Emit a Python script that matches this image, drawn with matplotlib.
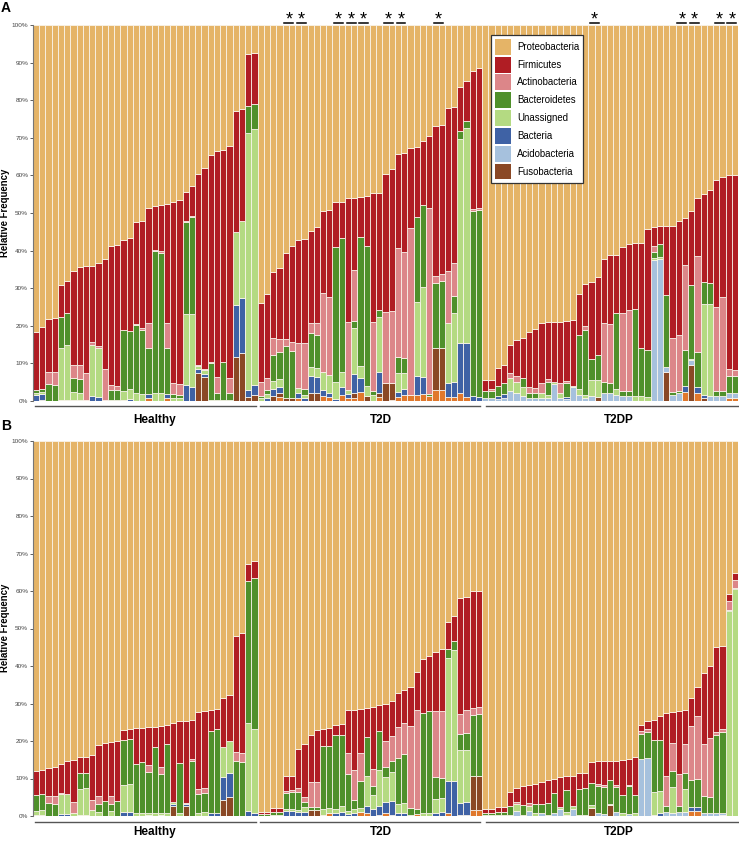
import numpy as np
import matplotlib.pyplot as plt
from matplotlib.patches import Patch
from matplotlib.transforms import blended_transform_factory

plt.rcParams['font.family'] = ['Liberation Sans', 'DejaVu Sans']

phyla = ['Proteobacteria', 'Firmicutes', 'Actinobacteria', 'Bacteroidetes',
         'Unassigned', 'Bacteria', 'Acidobacteria', 'Fusobacteria']
colors = {'Proteobacteria': '#E5B467', 'Firmicutes': '#B01D24',
          'Actinobacteria': '#DC8689', 'Bacteroidetes': '#4F902B',
          'Unassigned': '#B4DA82', 'Bacteria': '#3F62A5',
          'Acidobacteria': '#A6C1DD', 'Fusobacteria': '#8A4825',
          'Other': '#E0782C'}

groups = ['Healthy', 'T2D', 'T2DP']
group_sizes = [36, 36, 41]

# ---- panel A (Healthy 36 | T2D 36 | T2DP 41), percent ----
a_fuso = [0, 0.3, 0, 0, 0, 0, 0, 0, 0, 0, 0, 0, 0, 0, 0, 0, 0, 0, 0, 0,
          0, 0, 0, 0, 0, 0, 7.5, 6.4, 0, 0, 0, 0, 11.6, 12.8, 1.0, 1.5,
          0, 0, 1.4, 1.0, 0.7, 0.7, 0, 0, 2.0, 2.2, 0, 0, 0, 0, 0, 1.3, 0, 1.3, 0, 1.0,
          4.7, 4.6, 0, 0, 0, 0, 0, 0, 11.1, 11.1, 0, 0, 0, 0, 0, 0,
          0, 0, 0, 0, 0, 0, 0, 0, 0, 0, 0, 0, 0, 0, 0, 0, 0, 0, 1.1, 0,
          0, 0, 0, 0, 0, 0, 0, 0, 0, 7.8, 0, 0, 0, 9.6, 0, 0.7, 0, 0, 0, 0, 0]
a_acido = [0] * 72 + [
          0.7, 0.7, 0.4, 0.7, 2.7, 2.2, 1.2, 0.8, 0.9, 0.9, 0.9, 4.5, 0.9, 0.6, 3.8, 1.6, 0.7, 1.2, 0, 2.0,
          2.0, 1.6, 1.2, 1.2, 0, 0, 0, 37.5, 37.8, 1.3, 1.6, 2.0, 0, 1.3, 0, 0, 1.2, 1.3, 1.3, 1.1, 1.1]
a_bact = [1.5, 1.5, 0, 0, 0.2, 0.2, 0.3, 0.3, 0, 1.2, 1.1, 0.2, 0.3, 0.3, 0.3, 0.5, 0, 0, 1.0, 0,
          0, 1.0, 0, 0, 4.2, 3.6, 1.1, 0.9, 0, 0, 0, 0, 14.0, 14.7, 2.0, 2.8,
          0, 0.8, 1.8, 1.8, 0, 0, 1.5, 0.8, 4.7, 4.3, 1.5, 1.0, 0.4, 2.2, 1.1, 5.2, 3.5, 0, 0, 5.6,
          0, 0, 1.5, 1.5, 0, 5.1, 4.7, 0, 0, 0, 3.6, 4.0, 13.3, 14.2, 1.3, 1.0,
          0, 0, 0.8, 1.1, 0, 0, 0, 0, 0, 0, 0, 0, 0, 0.5, 0, 0, 0, 0, 0, 0,
          0, 0, 0, 0, 0, 0, 0, 0, 0, 0, 0, 0, 1.5, 0, 1.4, 0.9, 0, 0, 0, 0, 0]
a_other = [0, 0, 0, 0, 0, 0, 0, 0, 0, 0, 0, 0, 0, 0, 0, 0, 0, 0, 0.9, 0,
           0, 0.8, 0, 0, 0, 0, 0, 0, 0, 0, 0, 0, 0, 0, 0, 0,
           0, 0, 0, 1.0, 0, 0, 0.7, 0, 0, 0, 1.4, 1.0, 0, 1.6, 0.7, 0.7, 2.5, 0, 0, 1.0,
           0, 0.3, 1.0, 1.6, 1.6, 1.6, 1.8, 1.2, 2.9, 2.9, 1.1, 1.1, 2.0, 1.1, 0, 0,
           0, 0, 0, 0, 0, 0, 0, 0, 0, 0, 0, 0, 0, 0, 0, 0, 0, 0, 0, 0,
           0, 0, 0, 0, 0, 0, 0, 0, 0, 0, 0, 0, 2.5, 0, 2.2, 0, 0, 0, 0, 0.9, 0.9]
a_unas = [0.5, 0.5, 0, 0, 13.8, 14.6, 2.0, 1.8, 0.3, 13.8, 13.0, 0, 0, 0, 2.3, 2.6, 2.0, 1.8, 0, 2.0,
          2.0, 0, 0.8, 0.7, 19.0, 19.6, 0.6, 0.9, 0.2, 0.2, 0.2, 0.2, 19.4, 20.3, 68.3, 68.1,
          0.7, 1.0, 2.2, 2.1, 0, 0, 1.3, 0.8, 2.4, 2.4, 4.9, 4.9, 4.7, 4.0, 1.1, 12.1, 3.3, 2.8, 1.5, 14.7,
          0, 0, 5.0, 4.4, 0, 19.5, 23.9, 0, 0, 0, 16.1, 18.2, 54.4, 57.2, 0, 0,
          0, 0, 0, 0, 3.5, 2.9, 2.6, 0, 0, 1.3, 0.7, 0.5, 1.1, 0, 0.3, 1.5, 0.9, 4.3, 4.5, 0,
          0, 1.5, 0, 0, 1.3, 1.3, 1.1, 0.6, 0.6, 0, 0, 0, 0, 0.4, 0, 24.2, 24.6, 0, 0, 0, 0]
a_bactd = [0.8, 0.8, 4.5, 4.2, 8.3, 8.6, 3.9, 3.7, 0, 0, 0, 0, 2.7, 2.5, 16.4, 15.5, 18.2, 17.2, 12.3, 37.8,
           37.4, 12.2, 1.0, 0.8, 24.3, 25.7, 0, 0, 10.0, 1.8, 10.3, 1.8, 0, 0, 7.2, 6.6,
           0.6, 1.2, 6.9, 7.0, 13.8, 12.7, 0, 1.5, 9.0, 8.7, 0, 0, 35.9, 35.5, 0, 2.1, 34.4, 37.1, 1.2, 1.9,
           0, 0, 4.3, 4.0, 0, 22.8, 21.7, 0.6, 17.5, 18.0, 0, 4.6, 2.1, 2.1, 49.2, 49.8,
           2.0, 2.0, 2.8, 3.1, 0, 0, 2.4, 1.4, 1.3, 0, 3.5, 0, 0, 3.6, 0, 14.5, 17.3, 5.8, 6.6, 3.1,
           2.7, 20.2, 1.5, 1.5, 23.3, 12.9, 12.5, 1.6, 3.3, 19.1, 0.9, 0.7, 9.6, 19.6, 9.5, 5.9, 5.7, 1.4, 1.4, 4.6, 4.6]
a_actino = [0, 0, 3.3, 3.6, 0, 0, 3.3, 3.7, 7.2, 0.8, 0.4, 8.3, 1.2, 1.3, 0, 0, 0.4, 0.5, 6.6, 0.4,
            0.4, 6.7, 3.0, 3.1, 0.3, 0.4, 0.4, 0.4, 0.2, 4.5, 0, 4.2, 0, 0, 0, 0,
            3.7, 3.0, 4.5, 3.6, 2.0, 2.2, 12.0, 12.4, 2.7, 3.1, 21.0, 20.8, 0, 0, 18.0, 13.4, 0, 0, 18.4, 0,
            18.9, 19.0, 29.0, 28.0, 44.4, 0, 0, 49.4, 1.7, 1.7, 13.8, 8.7, 0, 0, 0.6, 0.4,
            0, 0.4, 0, 0, 1.3, 1.6, 0, 1.4, 1.2, 2.5, 0.8, 0, 2.7, 0.7, 0, 0, 1.0, 0, 0, 15.7,
            15.8, 0, 20.8, 21.5, 0, 0, 0, 1.5, 0, 0, 14.3, 14.9, 22.7, 0, 25.5, 0, 0, 22.4, 25.0, 1.8, 1.6]
a_firm = [15.5, 16.5, 13.9, 14.4, 8.5, 8.6, 25.2, 26.1, 28.3, 20.2, 22.3, 29.3, 37.1, 37.5, 23.8, 24.7, 27.0, 28.3, 30.4, 11.6,
          12.4, 31.6, 48.0, 48.9, 7.7, 7.9, 50.9, 53.4, 55.1, 59.9, 56.3, 61.6, 32.0, 29.9, 13.8, 13.6,
          21.0, 22.4, 17.4, 18.8, 22.8, 25.7, 27.3, 27.5, 24.3, 25.7, 21.8, 23.1, 11.8, 9.5, 33.1, 19.2, 10.6, 13.3, 34.1, 31.0,
          36.7, 37.7, 25.0, 26.4, 21.3, 18.6, 17.0, 19.3, 40.0, 39.7, 43.4, 41.7, 11.6, 10.6, 36.7, 37.3,
          2.9, 2.5, 4.9, 4.7, 7.4, 9.5, 10.6, 14.8, 15.7, 16.1, 15.2, 16.1, 16.4, 15.9, 17.4, 10.8, 11.2, 20.3, 20.9, 17.0,
          18.3, 15.5, 17.4, 17.5, 17.3, 27.9, 32.1, 5.1, 4.8, 18.3, 29.8, 30.3, 12.3, 19.5, 15.5, 23.4, 24.6, 33.6, 32.0, 51.7, 52.0]

# ---- panel B ----
b_fuso = [0] * 22 + [2.7, 0, 2.8, 0, 0, 0, 0, 0, 4.4, 5.1, 0, 0, 0, 0] + \
         [0, 0, 0, 0, 0, 0, 0, 0, 1.6, 1.6] + [0] * 24 + [9.1, 9.1] + \
         [0] * 17 + [2.2, 0, 0, 2.9] + [0] * 20
b_acido = [0] * 72 + [
          0.3, 0.3, 0, 0, 0.4, 1.3, 0, 1.3, 0, 0.7, 0.4, 0.7, 2.0, 0, 2.0, 0, 0, 0, 0.9, 0.6,
          0, 1.2, 0, 0.5, 0, 15.1, 15.5, 0, 0, 1.1, 0.9, 1.1, 1.1, 0, 0, 0.9, 0.9, 0.9, 0.5, 0, 0]
b_bact = [0.3, 0.3, 0, 0, 0.5, 0.5, 0, 0.3, 0.3, 0, 0, 0, 0, 0, 1.2, 1.2, 0, 0, 0.4, 0,
          0.4, 0, 0.6, 0, 0.5, 0, 0, 0, 0.9, 0.7, 6.1, 6.4, 0, 0, 1.3, 0.9,
          0, 0, 0, 0, 1.3, 1.3, 1.0, 1.0, 0, 0, 0, 0, 0.8, 1.2, 0.5, 0.7, 0, 2.0, 2.0, 2.3,
          3.0, 3.6, 0.7, 0.9, 0, 0, 0, 0, 0.8, 1.1, 8.4, 9.3, 3.0, 3.3, 0, 0,
          0, 0, 0.4, 0.4, 0, 0, 0, 0, 0, 0, 0, 0, 0, 0.4, 0, 0, 0, 0, 0, 0,
          0, 0, 0, 0, 0, 0, 0, 0.4, 0.7, 0, 0, 0, 0, 1.1, 1.1, 0, 0, 0, 0, 0, 0]
b_other = [0] * 36 + \
          [0, 0, 0, 0, 0, 0, 0, 0, 0, 0, 0.4, 0.7, 0, 0, 0, 0, 1.0, 0.7, 0, 0.4,
           0.7, 0.4, 0, 0, 0.4, 0.6, 0, 0, 0, 0, 0.9, 0, 0.4, 0.4, 1.7, 1.7] + \
          [0] * 33 + [1.3, 1.3, 0, 0, 0, 0.4, 0, 0]
b_unas = [1.0, 1.3, 0, 0, 5.5, 5.3, 0.7, 6.8, 7.1, 1.6, 1.1, 0, 1.3, 0, 7.2, 7.4, 0.7, 0.7, 0.5, 0.9,
          0.5, 0.9, 0.5, 0.9, 0, 0, 0.7, 1.0, 0, 0, 7.9, 8.5, 0, 0, 23.4, 22.2,
          0, 0, 0.4, 0.4, 0.6, 0.6, 0.7, 1.5, 0, 0, 1.4, 1.5, 1.2, 1.5, 0.8, 1.1, 1.2, 8.1, 3.6, 9.7,
          6.8, 7.7, 2.4, 2.5, 0, 0, 0.7, 0.7, 3.8, 3.8, 32.8, 35.1, 14.2, 13.9, 0, 0,
          0, 0, 0, 0, 0, 1.8, 0.4, 1.3, 0.9, 0, 0, 0, 0.5, 0.7, 0.7, 0.4, 0.4, 0.7, 0, 0,
          0.4, 0, 0.7, 0, 0.7, 0, 0, 6.0, 6.0, 0, 6.8, 0, 6.2, 0, 0, 0, 0, 0, 0, 54.7, 60.6]
b_bactd = [4.3, 4.2, 3.5, 3.3, 0, 0, 0, 4.3, 4.1, 0, 2.2, 4.0, 1.8, 4.0, 12.0, 12.0, 13.2, 13.7, 10.8, 17.6,
           10.3, 18.2, 0, 13.3, 0, 14.6, 5.3, 5.1, 21.9, 22.6, 0, 0, 14.7, 14.5, 38.0, 40.3,
           0.5, 0.5, 0.7, 0.7, 4.2, 4.4, 4.7, 1.2, 0.8, 0.8, 17.0, 16.6, 19.7, 19.0, 10.0, 2.6, 7.1, 10.3, 2.4, 10.2,
           2.7, 3.1, 12.3, 13.1, 1.8, 1.4, 26.8, 27.2, 5.7, 5.3, 2.4, 2.4, 4.2, 4.6, 16.2, 16.4,
           0.6, 0.6, 0.7, 0.7, 2.4, 0, 2.5, 0, 2.2, 2.4, 3.1, 5.5, 0, 5.8, 0, 6.9, 7.0, 6.0, 7.0, 7.2,
           6.2, 6.6, 4.8, 7.4, 4.8, 6.8, 6.9, 13.8, 13.7, 1.7, 4.4, 1.6, 4.2, 7.2, 7.5, 4.5, 4.3, 20.8, 21.6, 0.3, 0.3]
b_actino = [0, 0, 1.8, 2.0, 0.2, 0.2, 3.0, 0, 0, 2.8, 2.0, 0, 2.2, 0, 0, 0, 0, 0, 2.0, 0,
            1.9, 0, 0, 0, 0.3, 0.7, 1.1, 1.4, 0, 0, 0, 0, 2.4, 2.4, 0, 0,
            0, 0, 0, 0, 0.7, 0.6, 1.1, 1.3, 6.6, 6.8, 0, 0, 0, 0, 5.4, 8.0, 7.6, 0, 4.6, 0,
            6.8, 6.5, 8.4, 8.3, 21.8, 26.2, 0, 0, 17.6, 17.7, 0, 0, 5.3, 6.2, 1.8, 1.8,
            0, 0, 0, 0, 0, 0.6, 0, 0.8, 0, 0, 0, 0, 0, 0, 0, 0, 0, 0, 0.7, 0.5,
            0, 0.6, 0, 0.4, 0, 0.7, 0.9, 0, 0, 7.8, 7.4, 8.4, 7.6, 14.5, 16.7, 13.7, 15.5, 0.7, 0.7, 2.4, 2.1]
b_firm = [6.4, 6.6, 7.5, 7.8, 7.7, 8.6, 11.2, 4.4, 4.3, 11.9, 13.7, 15.5, 14.5, 16.0, 2.6, 2.5, 9.7, 9.2, 10.0, 5.3,
          11.0, 5.1, 20.9, 11.1, 21.7, 10.4, 20.6, 20.4, 5.5, 5.2, 13.1, 12.4, 30.9, 31.9, 4.6, 4.6,
          0.5, 0.5, 1.1, 1.1, 4.0, 3.9, 10.4, 14.3, 12.6, 13.7, 4.3, 4.7, 2.7, 2.9, 11.5, 16.0, 11.7, 7.6, 16.4, 6.9,
          10.0, 9.3, 9.0, 8.7, 10.3, 10.1, 14.4, 14.7, 15.8, 16.6, 7.2, 6.6, 31.0, 30.1, 31.3, 31.1,
          0.9, 0.9, 1.3, 1.3, 3.7, 3.8, 5.1, 4.9, 5.5, 6.0, 6.0, 3.8, 7.9, 3.7, 8.1, 4.1, 4.1, 5.5, 6.0, 6.5,
          5.3, 6.4, 9.4, 6.8, 10.3, 1.8, 2.0, 5.5, 6.2, 16.9, 8.2, 16.8, 9.1, 7.4, 7.8, 19.0, 19.4, 22.6, 22.2, 1.9, 1.8]

# significant pairs (panel A), given as the boundary between the two bars
star_pairs = [40.5, 42.5, 48.5, 50.5, 52.5, 56.5, 58.5, 64.5,
              89.5, 103.5, 105.5, 109.5, 111.5]


def draw_panel(ax, layers, line_y, label_y):
    n = len(layers[0][1])
    x = np.arange(n)
    bottom = np.zeros(n)
    for name, vals in layers:
        vals = np.array(vals, dtype=float)
        ax.bar(x, vals, bottom=bottom, width=1.0, color=colors[name],
               edgecolor='#fbf6ee', linewidth=0.55)
        bottom += vals
    ax.bar(x, 100 - bottom, bottom=bottom, width=1.0,
           color=colors['Proteobacteria'], edgecolor='#fbf6ee', linewidth=0.55)

    ax.set_xlim(-0.5, n - 0.5)
    ax.set_ylim(0, 100)
    ax.set_yticks(range(0, 101, 10))
    ax.set_yticklabels([f'{v}%' for v in range(0, 101, 10)])
    ax.tick_params(axis='y', labelsize=4.6, colors='#444444', length=2, width=0.6, pad=1.5)
    ax.set_xticks([])
    for s in ['top', 'right', 'bottom']:
        ax.spines[s].set_visible(False)
    ax.spines['left'].set_color('#777777')
    ax.spines['left'].set_linewidth(0.8)

    # group brackets and names
    tr = blended_transform_factory(ax.transData, ax.transAxes)
    spans = [(-0.2, 35.2), (35.9, 71.1), (72.1, 112.5)]
    label_x = [19.0, 55.3, 93.4]
    for (x0, x1), lx, g in zip(spans, label_x, groups):
        ax.plot([x0, x1], [line_y, line_y], color='#555555', lw=1.0,
                transform=tr, clip_on=False)
        ax.text(lx, label_y, g, transform=tr, ha='center', va='center',
                fontsize=8.5, fontweight='bold')


fig = plt.figure(figsize=(7.39, 8.43), dpi=100)
axA = fig.add_axes([33 / 739, 1 - 401 / 843, 705 / 739, 376 / 843])
axB = fig.add_axes([33 / 739, 1 - 816 / 843, 705 / 739, 375 / 843])

draw_panel(axA, [('Other', a_other), ('Fusobacteria', a_fuso),
                 ('Acidobacteria', a_acido), ('Bacteria', a_bact),
                 ('Unassigned', a_unas), ('Bacteroidetes', a_bactd),
                 ('Actinobacteria', a_actino), ('Firmicutes', a_firm)],
           line_y=-0.013, label_y=-0.05)
draw_panel(axB, [('Other', b_other), ('Fusobacteria', b_fuso),
                 ('Acidobacteria', b_acido), ('Bacteria', b_bact),
                 ('Unassigned', b_unas), ('Bacteroidetes', b_bactd),
                 ('Actinobacteria', b_actino), ('Firmicutes', b_firm)],
           line_y=-0.015, label_y=-0.043)

# asterisks over panel A
trA = blended_transform_factory(axA.transData, axA.transAxes)
for sx in star_pairs:
    axA.text(sx, 1.002, '*', transform=trA, ha='center', va='baseline',
             fontsize=13, clip_on=False)
    axA.plot([sx - 0.7, sx + 0.7], [1.0045, 1.0045], color='black', lw=1.1,
             transform=trA, clip_on=False)

handles = [Patch(facecolor=colors[p], edgecolor='none', label=p) for p in phyla]
leg = axA.legend(handles=handles, loc='upper left', bbox_to_anchor=(0.6496, 0.9734),
                 borderaxespad=0, fontsize=6.9, handlelength=1.7, handleheight=2.19,
                 handletextpad=0.6, labelspacing=0.19, borderpad=0.4,
                 fancybox=False, framealpha=1, edgecolor='#333333')
leg.get_frame().set_linewidth(0.9)

fig.text(5 / 739, 1 - 213 / 843, 'Relative Frequency', rotation=90, ha='center',
         va='center', fontsize=6.9, fontweight='bold')
fig.text(5 / 739, 1 - 628 / 843, 'Relative Frequency', rotation=90, ha='center',
         va='center', fontsize=6.9, fontweight='bold')
fig.text(0.001, 1 - 8 / 843, 'A', fontsize=10, fontweight='bold', va='center')
fig.text(0.001, 1 - 426 / 843, 'B', fontsize=10, fontweight='bold', va='center')

fig.savefig('out.png', dpi=100)
